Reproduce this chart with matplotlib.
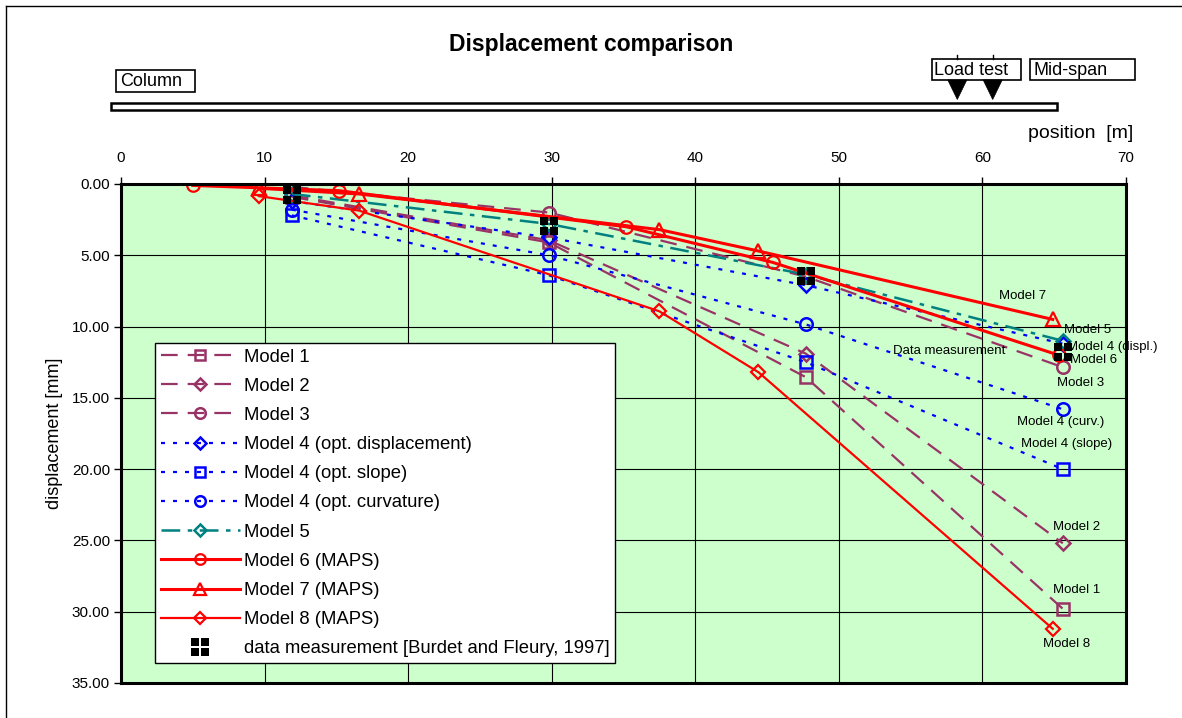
import matplotlib
matplotlib.use("Agg")
import matplotlib.pyplot as plt
from matplotlib.path import Path
from matplotlib.patches import Rectangle, Polygon
from matplotlib.lines import Line2D
from matplotlib.ticker import FormatStrFormatter

plt.rcParams['font.family'] = ['Liberation Sans', 'DejaVu Sans']

# ---- data -----------------------------------------------------------------
# measurement sections along the span [m]
sections = [11.9, 29.8, 47.7, 65.6]

model1 = [0.9, 4.1, 13.55, 29.8]
model2 = [0.8, 3.95, 11.9, 25.2]
model3 = [0.2, 2.0, 6.5, 12.85]
model4_displ = [1.2, 3.75, 7.1, 11.2]
model4_slope = [2.2, 6.4, 12.5, 20.0]
model4_curv = [1.8, 5.0, 9.85, 15.8]
model5 = [0.7, 2.8, 6.35, 11.0]

model6_x = [5.0, 15.2, 35.2, 45.4, 65.3]
model6_y = [0.1, 0.47, 3.0, 5.5, 12.0]
model7_x = [9.6, 16.6, 37.5, 44.4, 64.9]
model7_y = [0.3, 0.7, 3.2, 4.7, 9.5]
model8_x = [9.6, 16.6, 37.5, 44.4, 64.9]
model8_y = [0.85, 1.87, 8.93, 13.2, 31.2]

measured = [0.75, 2.95, 6.45, 11.8]

legend_labels = ["Model 1", "Model 2", "Model 3",
                 "Model 4 (opt. displacement)", "Model 4 (opt. slope)",
                 "Model 4 (opt. curvature)", "Model 5",
                 "Model 6 (MAPS)", "Model 7 (MAPS)", "Model 8 (MAPS)",
                 "data measurement [Burdet and Fleury, 1997]"]

end_labels = ["Model 7", "Model 5", "Model 4 (displ.)", "Data measurement",
              "Model 6", "Model 3", "Model 4 (curv.)", "Model 4 (slope)",
              "Model 2", "Model 1", "Model 8"]
end_label_pos = [(62.8, 7.83, 'center'), (67.35, 10.24, 'center'),
                 (65.9, 11.41, 'left'), (57.65, 11.71, 'center'),
                 (67.75, 12.34, 'center'), (66.87, 13.98, 'center'),
                 (65.48, 16.67, 'center'), (65.86, 18.25, 'center'),
                 (66.56, 24.07, 'center'), (66.53, 28.47, 'center'),
                 (65.84, 32.26, 'center')]

# ---- figure ---------------------------------------------------------------
W, H = 1182, 718
fig = plt.figure(figsize=(W / 100, H / 100), dpi=100)


def fx(x):
    return x / W


def fy(y):
    return 1 - y / H


ax = fig.add_axes([fx(121), fy(683), (1126 - 121) / W, (683 - 184) / H])
ax.set_facecolor('#CCFFCC')
ax.set_xlim(0, 70)
ax.set_ylim(35, 0)
ax.xaxis.tick_top()
ax.set_xticks(range(0, 71, 10))
ax.set_yticks(range(0, 36, 5))
ax.yaxis.set_major_formatter(FormatStrFormatter('%.2f'))
ax.tick_params(axis='both', direction='out', length=5, width=1,
               labelsize=11, colors='black')
ax.tick_params(axis='x', pad=9)
ax.tick_params(axis='y', pad=3)
ax.grid(True, color='black', lw=0.8)
ax.set_axisbelow(True)
for sp in ax.spines.values():
    sp.set_linewidth(2.2)
    sp.set_color('black')

purple = '#993366'
blue = '#0000FF'
teal = '#008080'
red = '#FF0000'

dash_long = (0, (7.5, 4.5))
dot_short = (0, (1.8, 3.6))
dash_dot = (0, (7.5, 3, 1.8, 3))

lines = []
lines += ax.plot(sections, model1, ls=dash_long, color=purple, lw=1.6,
                 marker='s', ms=9, mfc='none', mew=1.8)
lines += ax.plot(sections, model2, ls=dash_long, color=purple, lw=1.6,
                 marker='D', ms=7, mfc='none', mew=1.8)
lines += ax.plot(sections, model3, ls=dash_long, color=purple, lw=1.6,
                 marker='o', ms=9, mfc='none', mew=1.8)
lines += ax.plot(sections, model4_displ, ls=dot_short, color=blue, lw=1.6,
                 marker='D', ms=7, mfc='none', mew=1.8)
lines += ax.plot(sections, model4_slope, ls=dot_short, color=blue, lw=1.6,
                 marker='s', ms=9, mfc='none', mew=1.8)
lines += ax.plot(sections, model4_curv, ls=dot_short, color=blue, lw=1.6,
                 marker='o', ms=9, mfc='none', mew=1.8)
lines += ax.plot(sections, model5, ls=dash_dot, color=teal, lw=1.8,
                 marker='D', ms=7, mfc='none', mew=1.8)
lines += ax.plot(model6_x, model6_y, ls='-', color=red, lw=2.2,
                 marker='o', ms=9, mfc='none', mew=1.6)
lines += ax.plot(model7_x, model7_y, ls='-', color=red, lw=2.2,
                 marker='^', ms=10, mfc='none', mew=1.6)
lines += ax.plot(model8_x, model8_y, ls='-', color=red, lw=1.6,
                 marker='D', ms=7, mfc='none', mew=1.6)

# measurement marker: four small black squares with a thin white cross between
g, s = 0.09, 0.9
verts, codes = [], []
for sx, sy in [(-1, -1), (1, -1), (1, 1), (-1, 1)]:
    x0, x1 = sorted([sx * g, sx * (g + s)])
    y0, y1 = sorted([sy * g, sy * (g + s)])
    verts += [(x0, y0), (x1, y0), (x1, y1), (x0, y1), (x0, y0)]
    codes += [Path.MOVETO, Path.LINETO, Path.LINETO, Path.LINETO, Path.CLOSEPOLY]
quad = Path(verts, codes)
lines += ax.plot(sections, measured, ls='none', marker=quad, ms=13,
                 mfc='black', mec='black', mew=0, zorder=5)

leg = ax.legend(lines, legend_labels, loc='upper left',
                bbox_to_anchor=((155 - 121) / 1005, (683 - 343) / 499),
                borderaxespad=0, fontsize=13.3, handlelength=4.3,
                handletextpad=0.2, labelspacing=0.66, borderpad=0.3,
                frameon=True, fancybox=False, framealpha=1, markerscale=0.85)
leg.get_frame().set_edgecolor('black')
leg.get_frame().set_linewidth(1.0)
leg.legend_handles[-1].set_markersize(13)

for txt, (x, y, ha) in zip(end_labels, end_label_pos):
    ax.text(x, y, txt, fontsize=9.5, ha=ha, va='center', color='black')

ax.set_ylabel('displacement [mm]', fontsize=13, labelpad=6)
fig.text(fx(1081), fy(134), 'position  [m]', fontsize=14,
         ha='center', va='center')
fig.text(fx(591), fy(45), 'Displacement comparison', fontsize=16.5,
         fontweight='bold', ha='center', va='center')

# ---- beam sketch above the plot -------------------------------------------
def box(x0, y0, x1, y1, **kw):
    r = Rectangle((fx(x0), fy(y1)), fx(x1) - fx(x0), fy(y0) - fy(y1),
                  transform=fig.transFigure, **kw)
    fig.add_artist(r)


box(110.7, 102.7, 1056.7, 109.5, facecolor='white', edgecolor='black', lw=1.8)
box(116, 70, 194.5, 92, facecolor='white', edgecolor='black', lw=1.2)
fig.text(fx(120), fy(81.5), 'Column', fontsize=13, ha='left', va='center')
box(931.7, 59.3, 1020.7, 80, facecolor='white', edgecolor='black', lw=1.2)
fig.text(fx(934.5), fy(70.5), 'Load test', fontsize=13, ha='left', va='center')
box(1029.7, 59.3, 1134.7, 80, facecolor='white', edgecolor='black', lw=1.2)
fig.text(fx(1033.5), fy(70.5), 'Mid-span', fontsize=13, ha='left', va='center')

for xc in (957.3, 992.7):
    tri = Polygon([(fx(xc - 9.5), fy(80)), (fx(xc + 9.5), fy(80)), (fx(xc), fy(99.5))],
                  closed=True, transform=fig.transFigure, facecolor='black',
                  edgecolor='black', lw=0.5)
    fig.add_artist(tri)
    fig.add_artist(Line2D([fx(xc), fx(xc)], [fy(55), fy(59.3)],
                          transform=fig.transFigure, color='black', lw=1))

# figure frame (left and top edges)
fig.add_artist(Line2D([fx(6), fx(6)], [fy(6), 0], transform=fig.transFigure,
                      color='black', lw=1))
fig.add_artist(Line2D([fx(6), 1], [fy(6), fy(6)], transform=fig.transFigure,
                      color='black', lw=1))

fig.savefig('out.png', dpi=100)
